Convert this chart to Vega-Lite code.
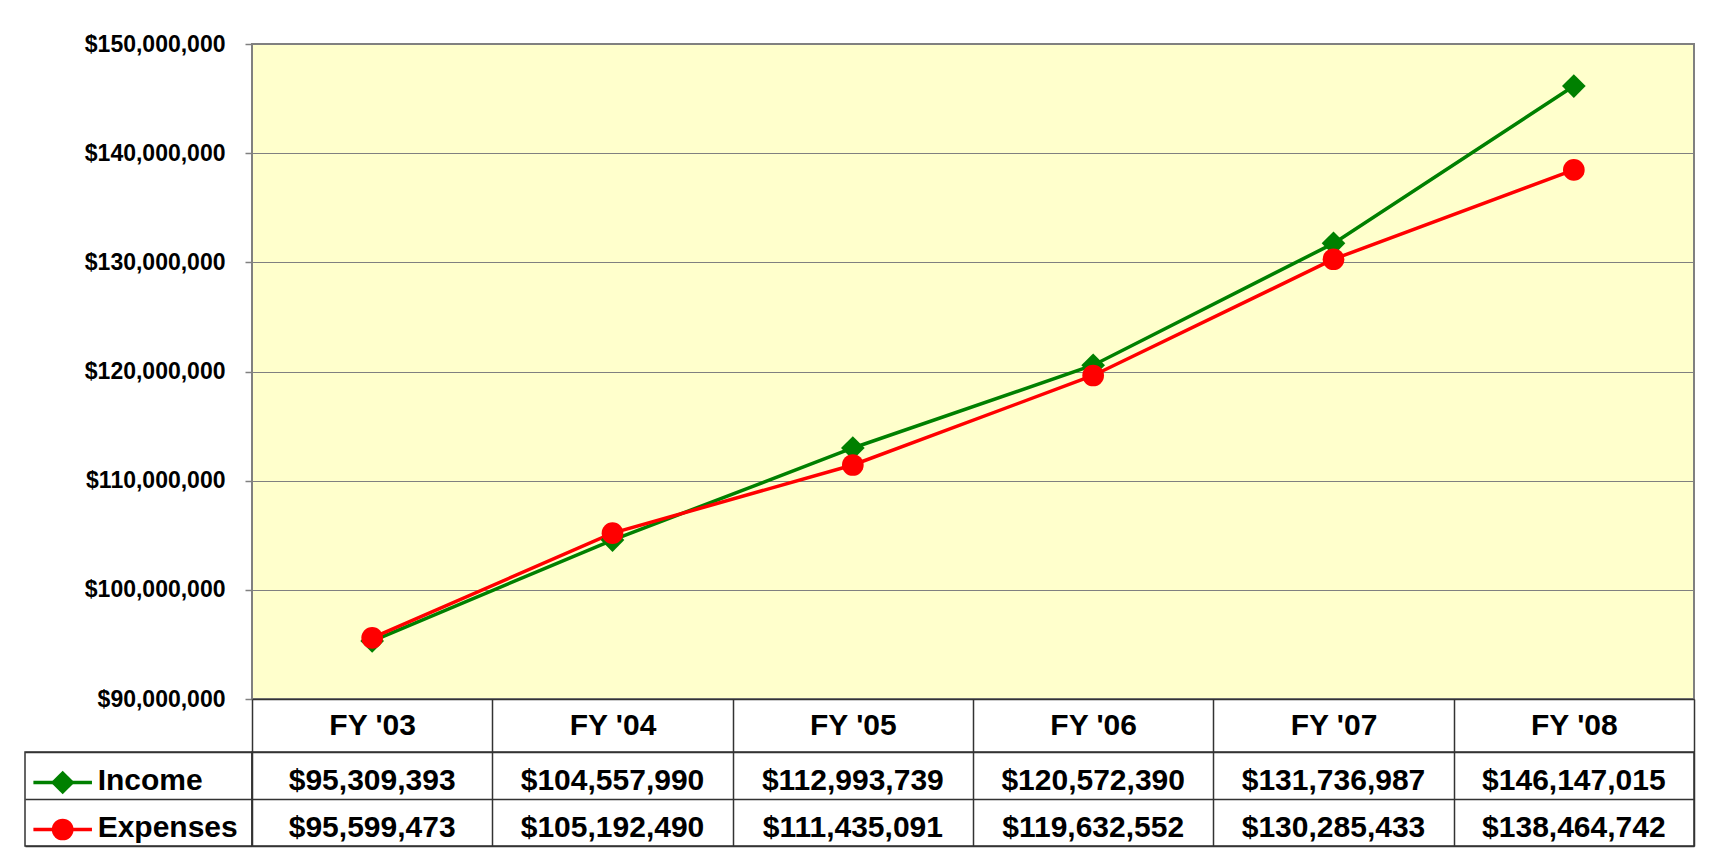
{
  "$schema": "https://vega.github.io/schema/vega-lite/v6.json",
  "background": "white",
  "padding": {"left": 24, "top": 32, "right": 15, "bottom": 10},
  "autosize": {"type": "pad"},
  "datasets": {
    "table": [
      {"year": "FY '03", "series": "Income", "value": 95309393},
      {"year": "FY '04", "series": "Income", "value": 104557990},
      {"year": "FY '05", "series": "Income", "value": 112993739},
      {"year": "FY '06", "series": "Income", "value": 120572390},
      {"year": "FY '07", "series": "Income", "value": 131736987},
      {"year": "FY '08", "series": "Income", "value": 146147015},
      {"year": "FY '03", "series": "Expenses", "value": 95599473},
      {"year": "FY '04", "series": "Expenses", "value": 105192490},
      {"year": "FY '05", "series": "Expenses", "value": 111435091},
      {"year": "FY '06", "series": "Expenses", "value": 119632552},
      {"year": "FY '07", "series": "Expenses", "value": 130285433},
      {"year": "FY '08", "series": "Expenses", "value": 138464742}
    ],
    "series": [
      {"series": "Income"},
      {"series": "Expenses"}
    ]
  },
  "columns": 2,
  "spacing": {"row": 53, "column": 0},
  "bounds": "flush",
  "concat": [
    {
      "width": 227,
      "height": 655,
      "data": {"values": [{}]},
      "view": {"stroke": null},
      "mark": {"type": "text", "text": ""},
      "encoding": {}
    },
    {
      "width": 1442,
      "height": 655,
      "data": {"name": "table"},
      "view": {"fill": "#FFFFCC", "stroke": "#808080", "strokeWidth": 2},
      "encoding": {
        "x": {
          "field": "year", "type": "ordinal", "sort": null,
          "scale": {"type": "point", "padding": 0.5},
          "axis": {"labels": false, "ticks": false, "domain": true, "domainColor": "#333333", "domainWidth": 1.5, "title": null, "grid": false}
        },
        "y": {
          "field": "value", "type": "quantitative",
          "scale": {"domain": [90000000, 150000000], "nice": false, "zero": false},
          "axis": {
            "values": [90000000, 100000000, 110000000, 120000000, 130000000, 140000000, 150000000],
            "format": "$,.0f", "title": null,
            "labelFont": "Liberation Sans", "labelFontWeight": "bold", "labelFontSize": 23, "labelColor": "black",
            "labelPadding": 20, "tickSize": 7, "tickColor": "#808080", "tickWidth": 1.5,
            "domain": false, "grid": true, "gridColor": "#808080", "gridWidth": 1, "gridOpacity": 1
          }
        },
        "color": {
          "field": "series", "type": "nominal",
          "scale": {"domain": ["Income", "Expenses"], "range": ["#008000", "#FF0000"]},
          "legend": null
        }
      },
      "layer": [
        {"mark": {"type": "line", "strokeWidth": 3.5}},
        {
          "mark": {"type": "point", "filled": true, "opacity": 1},
          "encoding": {
            "shape": {
              "field": "series", "type": "nominal",
              "scale": {"domain": ["Income", "Expenses"], "range": ["diamond", "circle"]},
              "legend": null
            },
            "size": {
              "field": "series", "type": "nominal",
              "scale": {"domain": ["Income", "Expenses"], "range": [560, 470]},
              "legend": null
            }
          }
        }
      ]
    },
    {
      "width": 227,
      "height": 94,
      "data": {"name": "series"},
      "view": {"stroke": "#333333", "strokeWidth": 1.5},
      "encoding": {
        "y": {
          "field": "series", "type": "nominal", "sort": ["Income", "Expenses"], "bandPosition": 0.5,
          "scale": {"type": "band", "paddingInner": 0, "paddingOuter": 0},
          "axis": {"title": null, "labels": false, "ticks": false, "domain": false, "grid": true, "tickBand": "extent", "gridColor": "#333333", "gridWidth": 1.5, "gridOpacity": 1}
        },
        "color": {
          "field": "series", "type": "nominal",
          "scale": {"domain": ["Income", "Expenses"], "range": ["#008000", "#FF0000"]},
          "legend": null
        }
      },
      "layer": [
        {
          "mark": {"type": "rule", "strokeWidth": 3.5},
          "encoding": {
            "x": {"datum": 0.037, "type": "quantitative", "scale": {"domain": [0, 1], "nice": false, "zero": false}, "axis": null},
            "x2": {"datum": 0.295},
            "yOffset": {"value": 30.5}
          }
        },
        {
          "mark": {"type": "point", "filled": true, "opacity": 1},
          "encoding": {
            "x": {"datum": 0.166, "type": "quantitative"},
            "yOffset": {"value": 30.5},
            "shape": {
              "field": "series", "type": "nominal",
              "scale": {"domain": ["Income", "Expenses"], "range": ["diamond", "circle"]},
              "legend": null
            },
            "size": {
              "field": "series", "type": "nominal",
              "scale": {"domain": ["Income", "Expenses"], "range": [430, 360]},
              "legend": null
            }
          }
        },
        {
          "mark": {"type": "text", "align": "left", "baseline": "middle", "dy": 5, "font": "Liberation Sans", "fontSize": 30, "fontWeight": "bold"},
          "encoding": {
            "x": {"datum": 0.32, "type": "quantitative"},
            "text": {"field": "series"},
            "color": {"value": "black"}
          }
        }
      ]
    },
    {
      "width": 1442,
      "height": 94,
      "data": {"name": "table"},
      "view": {"stroke": "#333333", "strokeWidth": 1.5},
      "mark": {"type": "text", "font": "Liberation Sans", "fontWeight": "bold", "fontSize": 30, "baseline": "middle", "dy": 5, "color": "black"},
      "encoding": {
        "x": {
          "field": "year", "type": "ordinal", "sort": null, "bandPosition": 0.5,
          "scale": {"type": "band", "paddingInner": 0, "paddingOuter": 0},
          "axis": {
            "orient": "top", "title": null, "labelAngle": 0, "tickBand": "extent",
            "tickSize": 53, "tickColor": "#333333", "tickWidth": 1.5, "domain": false,
            "grid": true, "gridColor": "#333333", "gridWidth": 1.5, "gridOpacity": 1,
            "labelPadding": -26.5, "labelBaseline": "middle",
            "labelFont": "Liberation Sans", "labelFontWeight": "bold", "labelFontSize": 30, "labelColor": "black"
          }
        },
        "y": {
          "field": "series", "type": "nominal", "sort": ["Income", "Expenses"], "bandPosition": 0.5,
          "scale": {"type": "band", "paddingInner": 0, "paddingOuter": 0},
          "axis": {"title": null, "labels": false, "ticks": false, "domain": false, "grid": true, "tickBand": "extent", "gridColor": "#333333", "gridWidth": 1.5, "gridOpacity": 1}
        },
        "text": {"field": "value", "type": "quantitative", "format": "$,.0f"}
      }
    }
  ],
  "config": {
    "font": "Liberation Sans"
  }
}
